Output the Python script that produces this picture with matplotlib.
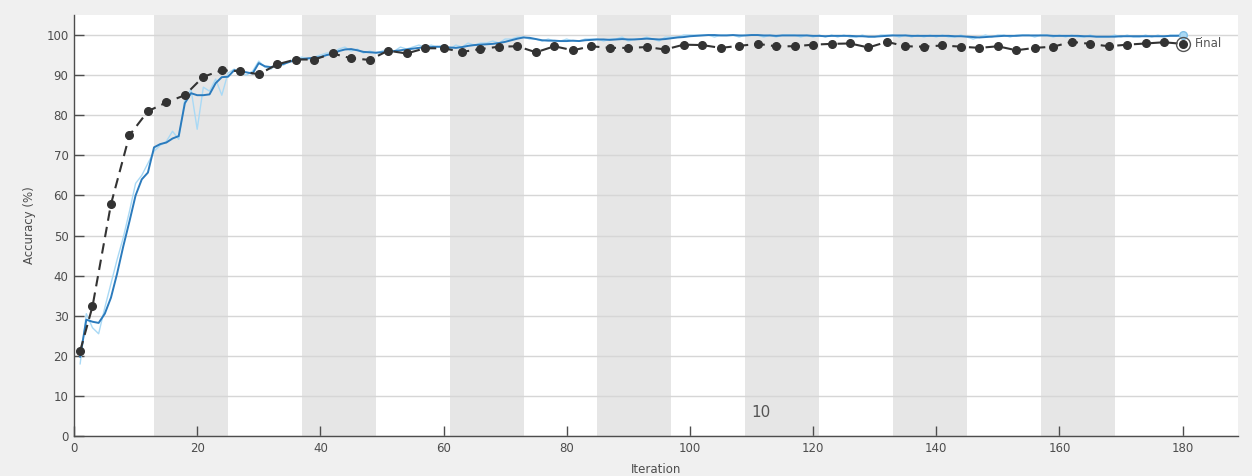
'''
plot.py - training progress plot (accuracy vs iteration)
'''
import numpy as np
import matplotlib.pyplot as plt

# 15 epochs x 12 iterations
iters = list(range(1, 181))

# smoothed training accuracy (dark blue)
train_smooth = [
    19.8, 29.0, 28.5, 28.2, 30.5, 34.5, 40.5, 47.3, 53.5, 60.0,
    64.0, 65.7, 72.0, 72.8, 73.2, 74.2, 74.8, 83.0, 85.5, 85.0,
    85.0, 85.2, 88.0, 89.5, 89.6, 91.2, 91.0, 90.7, 90.4, 93.0,
    92.2, 92.0, 92.4, 92.8, 93.3, 93.8, 94.0, 94.2, 94.3, 94.5,
    95.0, 95.3, 96.0, 96.4, 96.5, 96.2, 95.8, 95.7, 95.6, 95.7,
    95.8, 96.0, 96.2, 96.4, 96.6, 96.8, 97.0, 97.0, 97.1, 97.0,
    96.9, 96.8, 97.0, 97.3, 97.5, 97.6, 97.7, 97.8, 98.0, 98.3,
    98.7, 99.1, 99.4, 99.3, 99.0, 98.7, 98.6, 98.6, 98.5, 98.5,
    98.6, 98.5, 98.7, 98.8, 98.9, 98.9, 98.8, 98.9, 99.0, 98.9,
    98.9, 99.0, 99.1, 99.0, 98.9, 99.0, 99.2, 99.4, 99.5, 99.7,
    99.8, 99.9, 100.0, 100.0, 99.9, 99.9, 100.0, 99.9, 99.9, 100.0,
    100.0, 99.9, 99.9, 99.8, 99.9, 99.9, 99.9, 99.9, 99.9, 99.8,
    99.8, 99.7, 99.8, 99.8, 99.8, 99.8, 99.7, 99.7, 99.6, 99.6,
    99.7, 99.8, 99.9, 99.9, 99.9, 99.8, 99.8, 99.8, 99.8, 99.8,
    99.8, 99.8, 99.7, 99.7, 99.6, 99.5, 99.4, 99.5, 99.6, 99.7,
    99.8, 99.8, 99.8, 99.9, 99.9, 99.9, 99.9, 99.9, 99.8, 99.8,
    99.8, 99.8, 99.8, 99.7, 99.7, 99.6, 99.6, 99.6, 99.6, 99.7,
    99.7, 99.7, 99.7, 99.7, 99.7, 99.7, 99.7, 99.8, 99.8, 99.9,
]

# raw mini-batch training accuracy (light blue)
train_raw = [
    18.0, 30.5, 27.0, 25.5, 32.0, 38.0, 44.0, 49.5, 56.0, 63.0,
    65.0, 68.0, 71.0, 72.5, 73.5, 76.0, 74.0, 84.0, 86.5, 76.5,
    87.0, 86.0, 89.0, 85.0, 90.5, 91.5, 90.5, 90.0, 91.0, 93.5,
    92.0, 91.5, 93.0, 92.5, 93.5, 94.0, 94.5, 94.0, 94.5, 95.0,
    95.5, 95.5, 96.5, 97.0, 96.0, 96.5, 95.5, 96.0, 95.5, 96.0,
    96.5, 96.0, 97.0, 96.5, 97.0, 97.5, 97.0, 97.5, 97.0, 97.5,
    96.5, 97.5, 97.0, 98.0, 97.5, 98.0, 98.0, 98.5, 98.0, 99.0,
    99.0, 99.5, 99.5, 99.0, 99.0, 98.5, 99.0, 98.5, 98.5, 99.0,
    98.5, 98.5, 99.0, 99.0, 99.0, 98.5, 99.0, 99.0, 99.5, 98.5,
    99.0, 99.0, 99.5, 99.0, 98.5, 99.5, 99.5, 99.5, 100.0, 100.0,
    100.0, 100.0, 100.0, 99.5, 100.0, 100.0, 100.0, 99.5, 100.0, 100.0,
    100.0, 99.5, 100.0, 99.5, 100.0, 100.0, 100.0, 99.5, 100.0, 99.5,
    100.0, 99.5, 100.0, 99.5, 100.0, 99.5, 99.5, 100.0, 99.5, 99.5,
    100.0, 100.0, 100.0, 99.5, 100.0, 99.5, 100.0, 99.5, 100.0, 99.5,
    100.0, 99.5, 99.5, 100.0, 99.5, 99.0, 99.5, 100.0, 99.5, 100.0,
    100.0, 99.5, 100.0, 100.0, 100.0, 99.5, 100.0, 100.0, 99.5, 100.0,
    99.5, 100.0, 99.5, 99.5, 100.0, 99.5, 99.5, 99.5, 100.0, 99.5,
    100.0, 99.5, 99.5, 100.0, 99.5, 100.0, 99.5, 100.0, 100.0, 99.8,
]

# validation accuracy, every 3 iterations
val_iters = [1] + list(range(3, 181, 3))
val_acc = [
    21.2, 32.3, 57.8, 75.0, 81.0, 83.2, 85.0, 89.6, 91.2, 91.0,
    90.2, 92.7, 93.9, 93.9, 95.4, 94.2, 93.8, 96.1, 95.4, 96.7,
    96.7, 95.8, 96.5, 97.1, 97.2, 95.7, 97.2, 96.2, 97.2, 96.8,
    96.8, 97.0, 96.4, 97.6, 97.5, 96.8, 97.3, 97.8, 97.2, 97.2,
    97.6, 97.8, 97.9, 96.9, 98.3, 97.2, 97.1, 97.4, 97.1, 96.8,
    97.2, 96.2, 96.8, 97.1, 98.3, 97.8, 97.2, 97.6, 97.9, 98.2,
    97.8,
]

# shaded (even) epochs
epoch_starts = [13, 37, 61, 85, 109, 133, 157]
epoch_len = 12

fig = plt.figure(figsize=(12.52, 4.76), dpi=100, facecolor='#f0f0f0')
ax = fig.add_axes([74/1252, 1 - 436/476, (1238 - 74)/1252, (436 - 15)/476])
ax.set_facecolor('white')

for s in epoch_starts:
    ax.axvspan(s, s + epoch_len, color='#e6e6e6', lw=0, zorder=0.2)

ax.plot(iters, train_raw, color='#a9d9f5', lw=1.0, zorder=2)
ax.plot(iters, train_smooth, color='#2b7bbd', lw=1.4, zorder=3)
ax.plot(val_iters, val_acc, color='#333333', lw=1.5, ls=(0, (5, 3)),
        marker='o', ms=5.5, mfc='#333333', mec='#333333', zorder=4)

# final markers
ax.plot(iters[-1], train_smooth[-1], 'o', ms=5.5, mfc='#a9d9f5', mec='#7fbfe6', zorder=3)
ax.plot(val_iters[-1], val_acc[-1], 'o', ms=10, mfc='none', mec='#555555', mew=1.0, zorder=5)
ax.text(182, val_acc[-1], 'Final', fontsize=8.5, color='#555555', va='center', ha='left')

# epoch label
ax.text(111.5, 5.8, '10', fontsize=11, color='#555555', ha='center', va='center')

ax.set_xlim(0, 189)
ax.set_ylim(0, 105)
ax.set_xticks(np.arange(0, 181, 20))
ax.set_yticks(np.arange(0, 101, 10))
ax.yaxis.grid(True, color='#d6d6d6', lw=1.0)
ax.set_axisbelow(True)

for side in ['top', 'right']:
    ax.spines[side].set_visible(False)
for side in ['left', 'bottom']:
    ax.spines[side].set_color('#4d4d4d')
    ax.spines[side].set_linewidth(1.0)
ax.tick_params(direction='in', length=7, width=1.0, color='#4d4d4d',
               labelcolor='#4d4d4d', labelsize=8.5, pad=4)

ax.set_xlabel('Iteration', fontsize=8.5, color='#4d4d4d', labelpad=6)
ax.set_ylabel('Accuracy (%)', fontsize=8.5, color='#4d4d4d', labelpad=7)

fig.savefig('out.png', dpi=100, facecolor=fig.get_facecolor())
